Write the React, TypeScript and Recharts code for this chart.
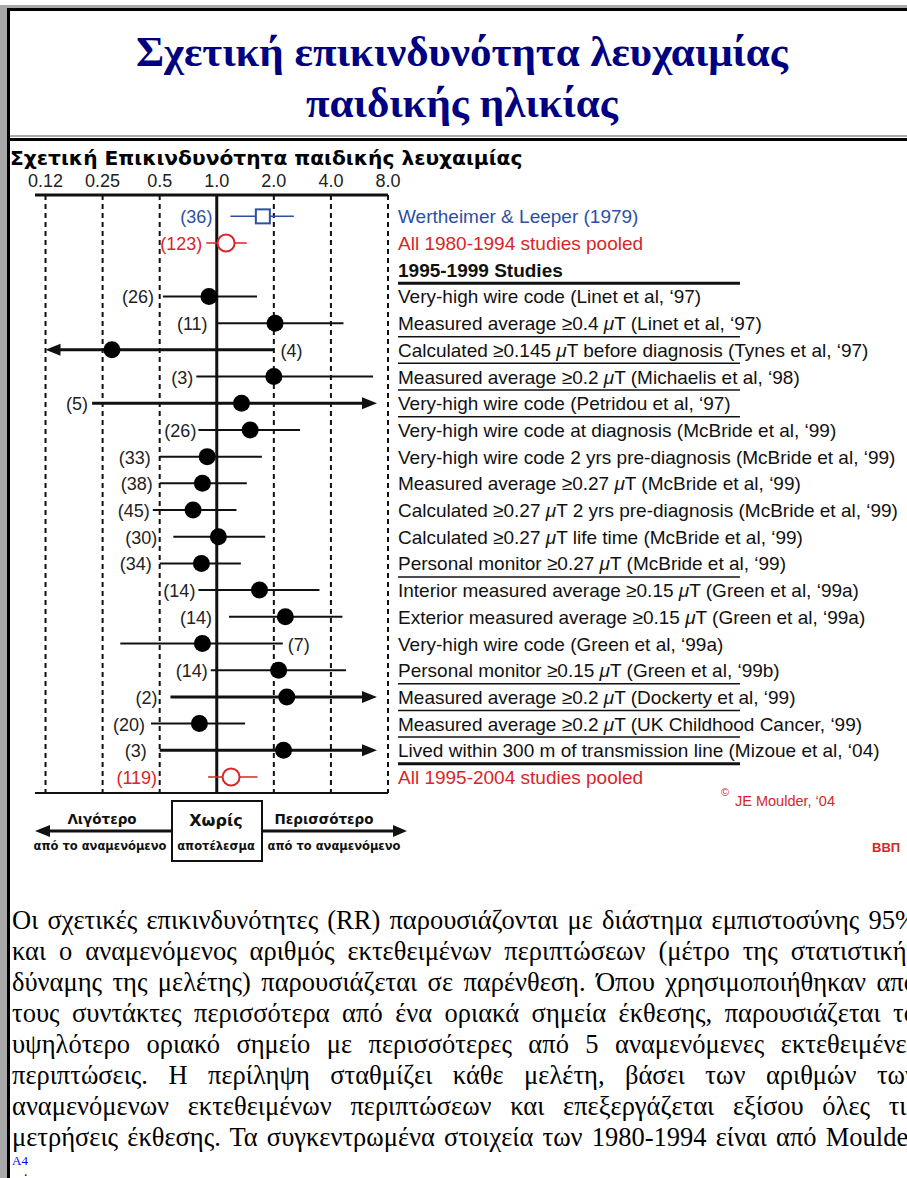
import { ComposedChart, Scatter, XAxis, YAxis, ReferenceLine } from 'recharts'

// Forest plot: relative risk of childhood leukaemia, log2 scale
const studyLabels = [
  'Wertheimer & Leeper (1979)',
  'All 1980-1994 studies pooled',
  '1995-1999  Studies',
  'Very-high wire code (Linet et al, ‘97)',
  'Measured average ≥0.4 μT (Linet et al, ‘97)',
  'Calculated ≥0.145 μT before diagnosis (Tynes et al, ‘97)',
  'Measured average ≥0.2 μT (Michaelis et al, ‘98)',
  'Very-high wire code (Petridou et al, ‘97)',
  'Very-high wire code at diagnosis (McBride et al, ‘99)',
  'Very-high wire code 2 yrs pre-diagnosis (McBride et al, ‘99)',
  'Measured average ≥0.27 μT (McBride et al, ‘99)',
  'Calculated ≥0.27 μT 2 yrs pre-diagnosis (McBride et al, ‘99)',
  'Calculated ≥0.27 μT life time (McBride et al, ‘99)',
  'Personal monitor ≥0.27 μT (McBride et al, ‘99)',
  'Interior measured average ≥0.15 μT (Green et al, ‘99a)',
  'Exterior measured average ≥0.15 μT (Green et al, ‘99a)',
  'Very-high wire code (Green et al, ‘99a)',
  'Personal monitor ≥0.15 μT (Green et al, ‘99b)',
  'Measured average ≥0.2 μT (Dockerty et al, ‘99)',
  'Measured average ≥0.2 μT (UK Childhood Cancer, ‘99)',
  'Lived within 300 m of transmission line (Mizoue et al, ‘04)',
  'All 1995-2004 studies pooled',
]

const rowKinds = [
  'early', 'pooled', 'header',
  'study', 'study', 'study', 'study', 'study', 'study', 'study', 'study', 'study',
  'study', 'study', 'study', 'study', 'study', 'study', 'study', 'study', 'study',
  'pooled',
]

// expected number of exposed cases
const expectedCases = [36, 123, null, 26, 11, 4, 3, 5, 26, 33, 38, 45, 30, 34, 14, 14, 7, 14, 2, 20, 3, 119]

// relative risk and 95% CI (0 / Infinity = bound runs off the axis)
const relativeRisk = [1.75, 1.12, null, 0.91, 2.03, 0.28, 2.0, 1.35, 1.5, 0.89, 0.84, 0.75, 1.02, 0.83, 1.68, 2.3, 0.84, 2.12, 2.34, 0.81, 2.25, 1.19]
const ciLower = [1.18, 0.88, null, 0.52, 1.01, 0, 0.78, 0.22, 0.8, 0.5, 0.5, 0.46, 0.59, 0.5, 0.8, 1.16, 0.31, 0.93, 0.57, 0.45, 0.5, 0.9]
const ciUpper = [2.55, 1.44, null, 1.63, 4.66, 1.99, 6.67, Infinity, 2.75, 1.73, 1.44, 1.27, 1.8, 1.34, 3.48, 4.6, 2.23, 4.8, Infinity, 1.41, Infinity, 1.64]

// rows whose case count sits right of the interval
const countOnRight = [5, 16]
// gap in px between each case count and its interval
const countGap = [18, 4, 0, 9, 10, 7, 3, 4, 2, 9, 7, 3, 16, 8, 3, 17, 5, 3, 13, 6, 13, 51]
// rows followed by a rule in the label column
const ruleAfter = [2, 4, 5, 6, 7, 13, 17, 18, 19, 20]
const heavyRules = [2, 20]

const rrTicks = [0.125, 0.25, 0.5, 1, 2, 4, 8]
const rrTickLabels = ['0.12', '0.25', '0.5', '1.0', '2.0', '4.0', '8.0']

const noteLines = [
  'Οι σχετικές επικινδυνότητες (RR) παρουσιάζονται με διάστημα εμπιστοσύνης 95%',
  'και ο αναμενόμενος αριθμός εκτεθειμένων περιπτώσεων (μέτρο της στατιστικής',
  'δύναμης της μελέτης) παρουσιάζεται σε παρένθεση. Όπου χρησιμοποιήθηκαν από',
  'τους συντάκτες περισσότερα από ένα οριακά σημεία έκθεσης, παρουσιάζεται το',
  'υψηλότερο οριακό σημείο με περισσότερες από 5 αναμενόμενες εκτεθειμένες',
  'περιπτώσεις. Η περίληψη σταθμίζει κάθε μελέτη, βάσει των αριθμών των',
  'αναμενόμενων εκτεθειμένων περιπτώσεων και επεξεργάζεται εξίσου όλες τις',
  'μετρήσεις έκθεσης. Τα συγκεντρωμένα στοιχεία των 1980-1994 είναι από Moulder',
]

const BLUE = '#2d4fa4'
const RED = '#d82628'
const INK = '#111'
const SANS = '"Liberation Sans", Arial, sans-serif'
const ROUND = '"DejaVu Sans", Verdana, sans-serif'
const SERIF = '"Liberation Serif", "Times New Roman", serif'

// open-ended intervals are drawn up to these values, with an arrow head
const ARROW_LOW = 0.125
const ARROW_HIGH = 7

const rows = studyLabels.map((label, i) => ({
  row: i,
  label,
  kind: rowKinds[i],
  n: expectedCases[i],
  rr: relativeRisk[i],
  lo: ciLower[i],
  hi: ciUpper[i],
}))

const points = rows.filter((r) => r.rr != null).map((r) => ({ rr: r.rr, row: r.row, kind: r.kind }))

const kindColor = (kind: string) => (kind === 'early' ? BLUE : kind === 'pooled' ? RED : INK)

function StudyTick(props: any) {
  const { x, y, payload } = props
  const i = payload.value as number
  const kind = rowKinds[i]
  const parts = studyLabels[i].split('μ')
  const hasRule = ruleAfter.includes(i)
  return (
    <g>
      <text
        x={x}
        y={y}
        dy={7}
        fill={kindColor(kind)}
        fontSize={19}
        fontFamily={SANS}
        fontWeight={kind === 'header' ? 700 : 400}
      >
        {parts.map((p, k) => (
          <tspan key={k}>
            {k > 0 && <tspan fontStyle="italic">μ</tspan>}
            {p}
          </tspan>
        ))}
      </text>
      {hasRule && (
        <line
          x1={x}
          x2={x + 342}
          y1={y + 13.5}
          y2={y + 13.5}
          stroke={INK}
          strokeWidth={heavyRules.includes(i) ? 3 : 1.5}
        />
      )}
    </g>
  )
}

function CiSegment(props: any) {
  const { x1, y1, x2, r } = props
  const color = kindColor(r.kind)
  const openLow = r.lo === 0
  const openHigh = r.hi === Infinity
  const width = r.kind === 'study' ? (openLow || openHigh ? 3 : 2) : 1.5
  const right = countOnRight.includes(r.row)
  const gap = countGap[r.row]
  return (
    <g>
      <line x1={openLow ? x1 + 10 : x1} x2={openHigh ? x2 - 10 : x2} y1={y1} y2={y1} stroke={color} strokeWidth={width} />
      {openLow && <polygon points={`${x1},${y1} ${x1 + 15},${y1 - 6} ${x1 + 15},${y1 + 6}`} fill={color} />}
      {openHigh && <polygon points={`${x2},${y1} ${x2 - 15},${y1 - 6} ${x2 - 15},${y1 + 6}`} fill={color} />}
      <text
        x={right ? x2 + gap : x1 - gap}
        y={y1}
        dy={7}
        textAnchor={right ? 'start' : 'end'}
        fontSize={18}
        fontFamily={SANS}
        fill={r.kind === 'study' ? '#222' : color}
      >
        ({r.n})
      </text>
    </g>
  )
}

function RiskMark(props: any) {
  const { cx, cy, payload } = props
  if (payload.kind === 'early') {
    return <rect x={cx - 7} y={cy - 7} width={14} height={14} fill="#fff" stroke={BLUE} strokeWidth={2} />
  }
  if (payload.kind === 'pooled') {
    return <circle cx={cx} cy={cy} r={8.5} fill="#fff" stroke={RED} strokeWidth={2} />
  }
  return <circle cx={cx} cy={cy} r={8.5} fill="#000" />
}

function ForestChart() {
  return (
    <ComposedChart width={907} height={740} margin={{ top: 24, right: 0, bottom: 78, left: 35 }}>
      <XAxis
        xAxisId={0}
        orientation="top"
        dataKey="rr"
        type="number"
        scale="log"
        domain={[0.11, 8]}
        allowDataOverflow
        ticks={rrTicks}
        interval={0}
        tickFormatter={(v: number) => rrTickLabels[rrTicks.indexOf(v)]}
        tickLine={false}
        axisLine={{ stroke: INK, strokeWidth: 3 }}
        tick={{ fill: '#222', fontSize: 18, fontFamily: SANS }}
        height={30}
      />
      <XAxis
        xAxisId="b"
        orientation="bottom"
        type="number"
        scale="log"
        domain={[0.11, 8]}
        allowDataOverflow
        ticks={rrTicks}
        interval={0}
        tick={false}
        tickSize={4}
        tickLine={{ stroke: INK, strokeWidth: 1.5 }}
        axisLine={{ stroke: INK, strokeWidth: 2 }}
        height={10}
      />
      <YAxis
        orientation="right"
        dataKey="row"
        type="number"
        domain={[-0.8, 21.6]}
        allowDataOverflow
        reversed
        ticks={rows.map((r) => r.row)}
        interval={0}
        width={519}
        axisLine={false}
        tickLine={false}
        tickMargin={4}
        tick={<StudyTick />}
      />
      {rrTicks
        .filter((v) => v !== 1)
        .map((v) => (
          <ReferenceLine key={v} x={v} stroke={INK} strokeWidth={2} strokeDasharray="5 4" />
        ))}
      <ReferenceLine x={1} stroke={INK} strokeWidth={3} />
      {rows
        .filter((r) => r.rr != null)
        .map((r) => (
          <ReferenceLine
            key={`ci-${r.row}`}
            segment={[
              { x: r.lo === 0 ? ARROW_LOW : r.lo, y: r.row },
              { x: r.hi === Infinity ? ARROW_HIGH : r.hi, y: r.row },
            ]}
            shape={(p: any) => <CiSegment {...p} r={r} />}
          />
        ))}
      <Scatter data={points} shape={<RiskMark />} isAnimationActive={false} />
    </ComposedChart>
  )
}

function ScaleKey() {
  const mid = 831
  return (
    <svg width={907} height={90} style={{ position: 'absolute', left: 0, top: 780 }} viewBox="0 780 907 90">
      <line x1={45} x2={172} y1={mid} y2={mid} stroke={INK} strokeWidth={3} />
      <polygon points={`35,${mid} 50,${mid - 6} 50,${mid + 6}`} fill={INK} />
      <rect x={172} y={801} width={90} height={60} fill="#fff" stroke={INK} strokeWidth={2} />
      <line x1={262} x2={397} y1={mid} y2={mid} stroke={INK} strokeWidth={3} />
      <polygon points={`407,${mid} 393,${mid - 6} 393,${mid + 6}`} fill={INK} />
      <g fontFamily={ROUND} fontWeight={700} fill={INK} textAnchor="middle">
        <text x={102} y={824} fontSize={13.5}>Λιγότερο</text>
        <text x={216} y={826} fontSize={16}>Χωρίς</text>
        <text x={324} y={824} fontSize={13.5}>Περισσότερο</text>
      </g>
      <g fontFamily={ROUND} fontWeight={600} fill={INK} textAnchor="middle" fontSize={11.5}>
        <text x={100} y={850}>από το αναμενόμενο</text>
        <text x={216} y={850}>αποτέλεσμα</text>
        <text x={334} y={850}>από το αναμενόμενο</text>
      </g>
      <text x={721} y={796} fontSize={11} fontFamily={SANS} fill={RED}>©</text>
      <text x={735} y={806} fontSize={14.5} fontFamily={SANS} fill={RED}>JE Moulder, ‘04</text>
      <text x={872} y={852} fontSize={13} fontWeight={700} fontFamily={SANS} fill={RED}>ΒΒΠ</text>
    </svg>
  )
}

export default function App() {
  return (
    <div style={{ position: 'absolute', left: 0, top: 0, width: 907, height: 1178, overflow: 'hidden', background: '#fff' }}>
      {/* table frame */}
      <div style={{ position: 'absolute', left: 0, top: 5, width: 907, height: 3, background: '#a8a8a8' }} />
      <div style={{ position: 'absolute', left: 0, top: 5, width: 7, height: 1173, background: '#a8a8a8' }} />
      <div style={{ position: 'absolute', left: 7, top: 8, width: 900, height: 3, background: '#000' }} />
      <div style={{ position: 'absolute', left: 7, top: 8, width: 3, height: 1170, background: '#000' }} />
      <div style={{ position: 'absolute', left: 10, top: 135, width: 897, height: 2, background: '#a8a8a8' }} />
      <div style={{ position: 'absolute', left: 10, top: 138, width: 897, height: 3, background: '#000' }} />

      <div
        style={{
          position: 'absolute',
          left: 10,
          top: 26,
          width: 904,
          textAlign: 'center',
          fontFamily: SERIF,
          fontWeight: 700,
          fontSize: 43,
          lineHeight: '51px',
          color: '#000080',
        }}
      >
        Σχετική επικινδυνότητα λευχαιμίας
        <br />
        παιδικής ηλικίας
      </div>

      <div
        style={{
          position: 'absolute',
          left: 10,
          top: 145,
          fontFamily: ROUND,
          fontWeight: 700,
          fontSize: 20.2,
          lineHeight: '26px',
          color: '#000',
          whiteSpace: 'nowrap',
        }}
      >
        Σχετική Επικινδυνότητα παιδικής λευχαιμίας
      </div>

      <div style={{ position: 'absolute', left: 0, top: 141 }}>
        <ForestChart />
      </div>

      <ScaleKey />

      <div style={{ position: 'absolute', left: 12, top: 905, width: 905, fontFamily: SERIF, fontSize: 26.5, lineHeight: '31px', color: '#000' }}>
        {noteLines.map((line, i) => (
          <div key={i} style={{ whiteSpace: 'nowrap', textAlign: 'justify', textAlignLast: 'justify' }}>
            {line}
          </div>
        ))}
        <div style={{ fontSize: 13, lineHeight: '15px', color: '#00f' }}>A4</div>
      </div>
      <div style={{ position: 'absolute', left: 24, top: 1167, fontFamily: SERIF, fontSize: 14, lineHeight: '10px' }}>.</div>
    </div>
  )
}
